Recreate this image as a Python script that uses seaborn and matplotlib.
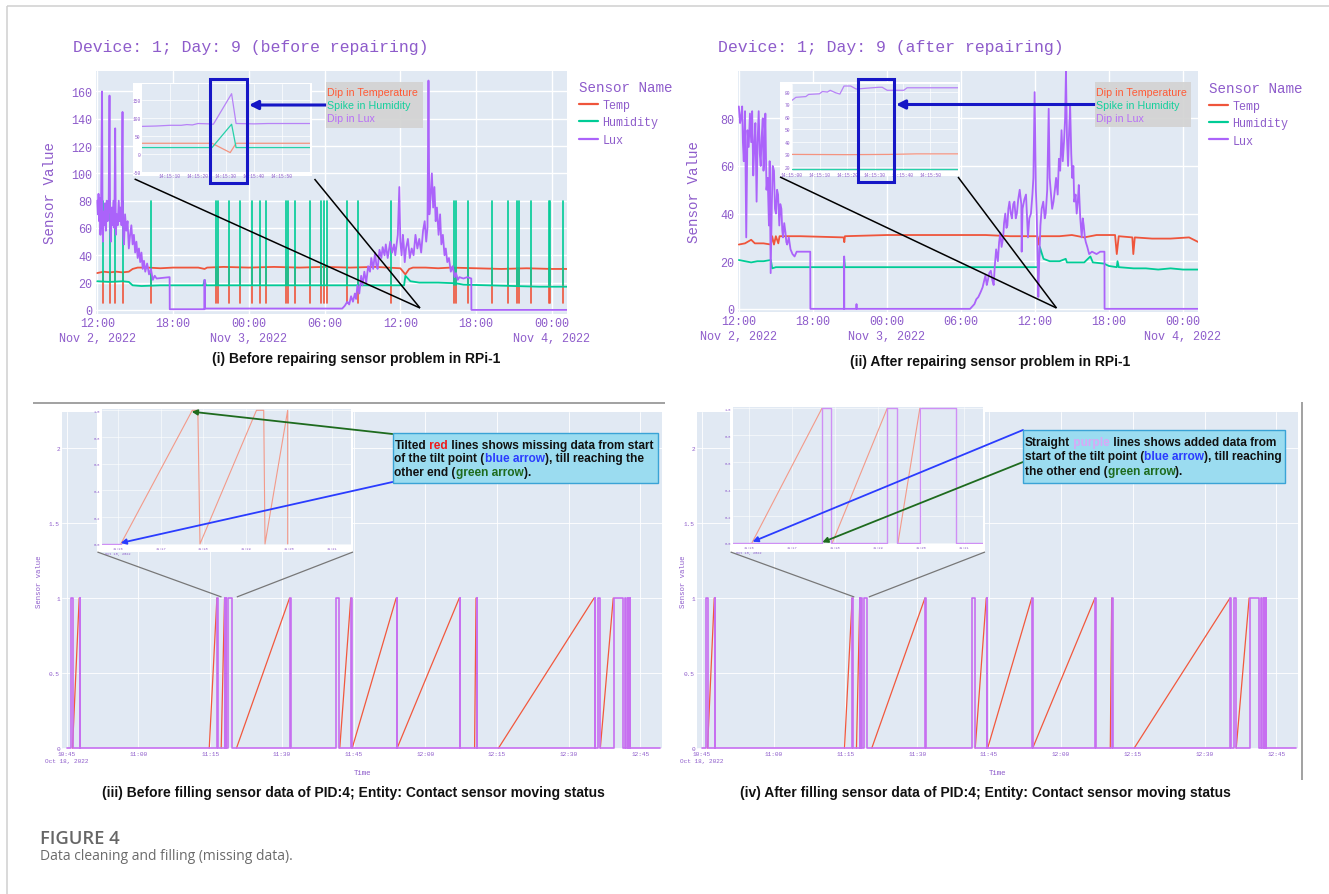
import numpy as np
import pandas as pd
import matplotlib
matplotlib.use("Agg")
import matplotlib.pyplot as plt
import seaborn as sns
from matplotlib.patches import Rectangle, FancyArrowPatch

# Configuración
sns.set_theme(style="darkgrid", rc={"axes.facecolor": "#e1e9f3", "grid.color": "white",
                                    "grid.linewidth": 1.0})
MONO = ["Liberation Mono", "DejaVu Sans Mono"]
SANS = ["Liberation Sans", "DejaVu Sans"]
plt.rcParams["font.family"] = MONO
plt.rcParams["axes.unicode_minus"] = False

W, H = 1329, 895
TXT = "#8e5ccb"
C_TEMP, C_HUM, C_LUX = "#EF553B", "#00CC96", "#AB63FA"
C_RED, C_PURP = "#f2583d", "#c76ff0"
C_BLUE = "#1616c6"

# ---------------- datos (i)/(ii): horas desde Nov 2, 2022 12:00 ----------------
hour_ticks = [0, 6, 12, 18, 24, 30, 36]
hour_labels = ["12:00\nNov 2, 2022", "18:00", "00:00\nNov 3, 2022", "06:00",
               "12:00", "18:00", "00:00\nNov 4, 2022"]

temp_before = [(0, 27), (0.5, 28), (1, 27.5), (1.5, 28), (2, 27.5), (2.5, 28), (2.8, 30),
               (3.2, 31), (4, 31), (5, 30.5), (6, 31), (8, 31), (8.5, 30), (8.7, 31),
               (10, 31.5), (12, 31), (14, 31.5), (16, 31), (18, 31.5), (20, 31), (22, 31.5),
               (24, 30.5), (24.4, 26), (24.7, 30), (25, 31), (26, 31), (27, 30.5), (28, 31),
               (30, 30.5), (32, 30), (34, 30.5), (36, 30), (37.2, 30)]
hum_before = [(0, 21), (1, 20.5), (2, 21), (2.5, 20.5), (2.8, 18), (3.5, 17.5), (5, 18),
              (8.4, 18), (8.5, 22), (8.6, 18), (12, 18), (16, 18), (20, 18), (24.3, 18),
              (24.4, 25), (24.8, 21), (25.5, 20), (27, 20), (28.4, 19.5), (29, 18.5),
              (31, 18), (33, 17.5), (35, 17), (37.2, 17)]
lux_before = [(0.0, 80), (0.05, 70), (0.1, 85), (0.15, 65), (0.2, 82), (0.25, 55), (0.3, 75),
              (0.38, 160), (0.42, 60), (0.45, 50), (0.5, 72), (0.55, 62), (0.62, 78),
              (0.68, 58), (0.75, 80), (0.82, 65), (0.9, 75), (0.97, 157), (1.02, 60),
              (1.08, 50), (1.15, 75), (1.2, 62), (1.28, 80), (1.35, 60), (1.42, 133),
              (1.47, 55), (1.55, 70), (1.62, 62), (1.7, 80), (1.78, 65), (1.85, 75),
              (1.92, 62), (2.0, 145), (2.05, 55), (2.12, 48), (2.2, 70), (2.3, 58), (2.4, 65),
              (2.5, 45), (2.6, 55), (2.7, 62), (2.8, 48), (2.9, 55), (3.0, 42), (3.1, 50),
              (3.2, 38), (3.3, 45), (3.4, 35), (3.5, 42), (3.6, 30), (3.7, 36), (3.8, 28),
              (3.95, 34), (4.1, 26), (4.25, 30), (4.4, 22), (4.55, 25), (4.7, 23), (5.73, 24),
              (5.74, 0.5), (8.49, 0.5), (8.5, 22), (8.51, 1), (19.4, 1), (19.6, 3), (19.8, 6),
              (19.95, 4), (20.1, 10), (20.25, 6), (20.4, 12), (20.5, 8), (20.6, 18),
              (20.75, 12), (20.9, 25), (21.0, 18), (21.15, 28), (21.3, 20), (21.45, 32),
              (21.6, 28), (21.7, 38), (21.85, 30), (22.0, 42), (22.1, 33), (22.2, 30),
              (22.35, 44), (22.5, 38), (22.6, 46), (22.75, 40), (22.85, 48), (23.0, 38),
              (23.2, 50), (23.35, 42), (23.5, 48), (23.6, 40), (23.8, 55), (23.92, 90),
              (24.0, 50), (24.1, 40), (24.2, 55), (24.27, 48), (24.35, 35), (24.45, 45),
              (24.6, 52), (24.75, 38), (24.9, 45), (25.05, 40), (25.2, 55), (25.35, 45),
              (25.5, 52), (25.65, 42), (25.8, 58), (25.93, 65), (26.05, 50), (26.15, 60),
              (26.23, 168), (26.3, 70), (26.38, 80), (26.5, 100), (26.6, 75), (26.7, 90),
              (26.8, 65), (26.9, 75), (27.03, 55), (27.15, 70), (27.25, 48), (27.37, 55),
              (27.5, 40), (27.6, 45), (27.72, 35), (27.85, 38), (28.0, 28), (28.15, 32),
              (28.3, 24), (28.41, 27), (28.55, 22), (28.68, 24), (29.0, 23), (29.3, 24),
              (29.62, 23), (29.63, 0), (37.2, 0)]
spike_hours = [0.45, 0.97, 1.42, 2.0, 4.25, 9.42, 9.6, 10.46, 11.32, 12.25, 12.88, 13.39,
               14.95, 15.12, 15.64, 16.84, 17.71, 17.98, 18.23, 19.78, 20.64, 23.23, 28.24,
               28.41, 29.37, 31.27, 32.55, 33.24, 33.41, 34.38, 35.76, 35.86, 36.86]

temp_after = [(0, 27), (0.5, 27.5), (1.0, 29), (1.3, 27.5), (2.0, 27.5), (2.6, 27), (2.7, 30.5),
              (2.85, 27), (3.0, 30.5), (3.2, 27.5), (3.3, 30.5), (5, 30.5), (8.5, 30),
              (8.55, 28), (8.6, 30.5), (12, 31), (16, 31), (20, 31), (22, 30.5), (24.2, 30.5),
              (24.3, 27), (24.4, 30.5), (26, 30.5), (27, 31), (28, 30), (29, 31), (30.5, 31),
              (30.64, 23), (30.8, 30.5), (31.9, 30), (31.98, 23), (32.1, 30), (33.5, 29.5),
              (35, 29.5), (36.5, 30), (37.27, 28)]
hum_after = [(0, 20.5), (0.5, 20), (1, 19.5), (1.5, 20), (2.0, 20), (2.6, 20.5), (2.7, 17),
             (3, 17.5), (4, 17.5), (8.5, 17.5), (8.54, 21), (8.6, 17.5), (12, 17.5), (16, 17.5),
             (20, 17.5), (24.3, 17.5), (24.4, 26), (24.7, 21), (25.2, 20), (26, 20),
             (26.5, 21), (26.6, 19.5), (28, 19.5), (28.5, 22), (28.7, 19.5), (29.6, 19),
             (30.0, 18), (30.64, 17.5), (30.7, 20), (30.8, 17.5), (32, 17), (33, 17),
             (34, 16.5), (35, 17), (36, 16.5), (37.27, 16.5)]
lux_after = [(0, 85), (0.1, 78), (0.17, 80), (0.27, 85), (0.33, 70), (0.4, 62), (0.5, 83),
             (0.6, 30), (0.7, 75), (0.8, 68), (0.9, 82), (1.0, 70), (1.08, 83), (1.17, 56),
             (1.25, 68), (1.34, 78), (1.44, 45), (1.52, 70), (1.61, 83), (1.7, 65), (1.77, 60),
             (1.85, 72), (1.94, 80), (2.0, 58), (2.08, 65), (2.15, 82), (2.24, 50), (2.34, 55),
             (2.44, 35), (2.5, 62), (2.58, 15), (2.68, 45), (2.75, 60), (2.85, 58), (2.93, 42),
             (3.01, 40), (3.1, 50), (3.18, 48), (3.28, 35), (3.36, 44), (3.45, 42), (3.52, 33),
             (3.58, 30), (3.68, 36), (3.78, 32), (3.85, 28), (3.92, 27), (4.05, 30), (4.19, 25),
             (4.35, 23), (4.52, 22), (4.69, 24), (5.79, 24), (5.8, 0), (8.53, 0), (8.54, 22),
             (8.55, 0), (9.53, 0), (9.54, 2), (9.55, 0), (18.75, 0), (19.1, 2), (19.25, 4),
             (19.42, 5), (19.6, 7), (19.76, 9), (19.9, 12), (19.99, 14), (20.1, 10),
             (20.19, 12), (20.3, 15), (20.43, 16), (20.55, 12), (20.66, 10), (20.75, 18),
             (20.86, 25), (21.0, 20), (21.1, 28), (21.2, 32), (21.3, 26), (21.43, 30),
             (21.5, 36), (21.6, 40), (21.7, 34), (21.77, 35), (21.85, 42), (21.94, 45),
             (22.05, 40), (22.14, 38), (22.25, 44), (22.34, 45), (22.45, 38), (22.54, 40),
             (22.65, 46), (22.77, 50), (22.9, 44), (22.93, 24), (23.0, 42), (23.15, 46),
             (23.28, 48), (23.44, 30), (23.55, 38), (23.68, 40), (23.8, 48), (23.88, 55),
             (23.98, 91), (24.08, 50), (24.15, 40), (24.28, 5), (24.35, 20), (24.45, 35),
             (24.55, 42), (24.68, 45), (24.8, 38), (24.88, 40), (25.0, 50), (25.12, 84),
             (25.2, 55), (25.28, 50), (25.4, 42), (25.51, 45), (25.62, 50), (25.72, 55),
             (25.85, 48), (25.95, 63), (26.05, 58), (26.16, 75), (26.26, 62), (26.36, 70),
             (26.45, 80), (26.52, 100), (26.6, 72), (26.69, 60), (26.78, 75), (26.86, 85),
             (26.95, 65), (27.03, 55), (27.12, 60), (27.19, 45), (27.3, 48), (27.39, 40),
             (27.48, 45), (27.56, 52), (27.68, 38), (27.8, 30), (27.88, 38), (27.96, 35),
             (28.05, 30), (28.13, 28), (28.25, 26), (28.4, 23), (28.63, 24), (29.0, 23),
             (29.3, 24), (29.64, 24), (29.65, 0), (37.27, 0)]

# zoom de 14:15:00 a 14:16:00 (segundos)
zoom_sec_ticks_before = [10, 20, 30, 40, 50]
zoom_sec_ticks_after = [0, 10, 20, 30, 40, 50]
zoom_temp_before = [(0, 30), (25, 30), (31.5, 4), (33.6, 30), (60, 30)]
zoom_hum_before = [(0, 18), (25, 18), (32, 83), (33.6, 18), (60, 18)]
zoom_lux_before = [(0, 77), (5, 78), (10, 80), (14, 80), (16, 82), (18, 81), (20, 85), (24, 84),
                   (25.5, 83), (32, 168), (33.6, 85), (40, 84), (45, 85), (60, 85)]
zoom_temp_after = [(0, 30), (20, 29.8), (35, 30), (45, 30.4), (60, 30.4)]
zoom_hum_after = [(0, 18.2), (60, 18.2)]
zoom_lux_after = [(0, 73), (1.4, 75.4), (5, 76), (6, 77.7), (9.9, 78.2), (11, 80), (12.8, 79.6),
                  (13.8, 81), (15.8, 79), (17.3, 78), (18.8, 84.4), (21.2, 84.4), (23.2, 82),
                  (27.8, 82.8), (31.4, 83.4), (32.6, 83.4), (34.4, 81), (36.2, 81), (40.4, 81),
                  (41.6, 83), (60, 83)]

# ---------------- datos (iii)/(iv): minutos desde Oct 18, 2022 10:45 ----------------
min_ticks = [0, 15, 30, 45, 60, 75, 90, 105, 120]
min_labels = ["10:45\nOct 18, 2022", "11:00", "11:15", "11:30", "11:45", "12:00",
              "12:15", "12:30", "12:45"]
contact_pulses = [(0.9, 1.2), (2.7, 2.8), (31.4, 31.6), (33.0, 33.1), (33.3, 33.4), (33.8, 34.5),
                  (46.7, 46.8), (56.4, 57.0), (59.5, 59.6), (69.0, 69.1), (82.2, 82.3),
                  (85.7, 85.8), (110.4, 110.5), (111.2, 111.5), (114.5, 116.4), (116.8, 116.9),
                  (117.3, 117.4), (117.8, 117.9)]
contact_tilts = [(1.2, 2.6), (29.8, 31.4), (32.3, 33.0), (35.5, 46.6), (57.1, 59.4),
                 (59.7, 68.9), (69.1, 82.1), (85.3, 85.6), (90.3, 110.3), (111.6, 114.3)]
zoom_ticks_contact = [0, 1, 2, 3, 4, 5]
zoom_labels_contact = ["11:16\nOct 18, 2022", "11:17", "11:18", "11:19", "11:20", "11:21"]
zoom_red_before = [(0.07, 0), (1.74, 1), (1.87, 1), (1.92, 0), (3.24, 1), (3.41, 1), (3.44, 0),
                   (3.97, 1), (3.97, 0)]
zoom_purple_before = [(-0.37, 0), (0.07, 0)]
zoom_pulses_after = [(1.70, 1.91), (3.22, 3.45), (3.98, 4.83)]
zoom_tilts_after = [(0.07, 1.70), (1.94, 3.22), (3.47, 3.98)]


# ---------------- helpers ----------------
def box(l, t, r, b, **kw):
    return fig.add_axes([l / W, 1 - b / H, (r - l) / W, (b - t) / H], **kw)


def paper(l, t, r, b):
    fig.add_artist(Rectangle((l / W, 1 - b / H), (r - l) / W, (b - t) / H,
                             transform=fig.transFigure, facecolor="white",
                             edgecolor="none", zorder=0.5))


def pairs_df(pairs):
    return pd.DataFrame(pairs, columns=["x", "y"])


def spikes_df(hours, lows, high):
    rows = []
    for i, (h, lo) in enumerate(zip(hours, lows)):
        rows += [(i, h, lo), (i, h, high)]
    return pd.DataFrame(rows, columns=["sid", "x", "y"])


def steps_df(pulses, start, end):
    pts = [(start, 0)]
    for a, b in pulses:
        pts += [(a, 0), (a, 1), (b, 1), (b, 0)]
    pts.append((end, 0))
    return pd.DataFrame(pts, columns=["x", "y"])


def tilts_df(segs):
    rows = []
    for i, (a, b) in enumerate(segs):
        rows += [(i, a, 0), (i, b, 1)]
    return pd.DataFrame(rows, columns=["sid", "x", "y"])


def clean(ax):
    for s in ax.spines.values():
        s.set_visible(False)
    ax.set_xlabel("")
    ax.set_ylabel("")


def sensor_panel(ax, temp, hum, lux, spikes, ylim, yticks, leg_xy, ylab_x):
    sns.lineplot(data=pairs_df(temp), x="x", y="y", color=C_TEMP, lw=1.3, estimator=None,
                 sort=False, label="Temp", ax=ax)
    if spikes:
        lows = [28 if h < 2.6 else 31 for h in spikes]
        sns.lineplot(data=spikes_df(spikes, lows, 5), x="x", y="y", units="sid", estimator=None,
                     sort=False, color=C_TEMP, lw=1.2, legend=False, ax=ax)
    sns.lineplot(data=pairs_df(hum), x="x", y="y", color=C_HUM, lw=1.3, estimator=None,
                 sort=False, label="Humidity", ax=ax)
    if spikes:
        lows = [21 if h < 2.6 else 18 for h in spikes]
        sns.lineplot(data=spikes_df(spikes, lows, 80), x="x", y="y", units="sid", estimator=None,
                     sort=False, color=C_HUM, lw=1.2, legend=False, ax=ax)
    sns.lineplot(data=pairs_df(lux), x="x", y="y", color=C_LUX, lw=1.3, estimator=None,
                 sort=False, label="Lux", ax=ax)
    clean(ax)
    ax.set_xlim(-0.1, 37.2)
    ax.set_ylim(*ylim)
    ax.set_yticks(yticks)
    ax.set_xticks(hour_ticks, hour_labels)
    ax.tick_params(length=0, colors=TXT, labelsize=8.5, pad=2.5)
    for lbl in ax.get_xticklabels():
        lbl.set_linespacing(1.3)
    ax.set_ylabel("Sensor Value", fontsize=10.2, color=TXT, va="center")
    ax.yaxis.set_label_coords(ylab_x, 0.5)
    hs, ls = ax.get_legend_handles_labels()
    keep = [(h, l) for h, l in zip(hs, ls) if l in ("Temp", "Humidity", "Lux")]
    leg = ax.legend([k[0] for k in keep], [k[1] for k in keep], loc="upper left",
                    bbox_to_anchor=leg_xy, frameon=False, title="Sensor Name",
                    alignment="left", fontsize=8.5, title_fontsize=10.3, handlelength=1.6,
                    handletextpad=0.4, labelspacing=0.45, borderpad=0, borderaxespad=0)
    for t in leg.get_texts():
        t.set_color(TXT)
    leg.get_title().set_color(TXT)
    for ln in leg.get_lines():
        ln.set_linewidth(1.6)


def sensor_zoom(ax, temp, hum, lux, xticks, xlabels, ylim, yticks):
    for data, col in [(temp, "#f4937f"), (hum, "#26d1a8"), (lux, "#b782f7")]:
        sns.lineplot(data=pairs_df(data), x="x", y="y", color=col, lw=0.9, estimator=None,
                     sort=False, legend=False, ax=ax)
    clean(ax)
    ax.set_xlim(0, 60)
    ax.set_ylim(*ylim)
    ax.set_yticks(yticks)
    ax.set_xticks(xticks, xlabels)
    ax.tick_params(length=0, colors=TXT, labelsize=3.3, pad=1)
    ax.grid(lw=0.5)


def contact_panel(ax, ylab_x):
    sns.lineplot(data=tilts_df(contact_tilts), x="x", y="y", units="sid", estimator=None,
                 sort=False, color=C_RED, lw=0.9, legend=False, ax=ax)
    sns.lineplot(data=steps_df(contact_pulses, 0, 124.1), x="x", y="y", estimator=None,
                 sort=False, color=C_PURP, lw=1.2, legend=False, ax=ax)
    clean(ax)
    ax.set_xlim(-1.0, 124.5)
    ax.set_ylim(-0.006, 2.24)
    ax.set_yticks([0, 0.5, 1, 1.5, 2], ["0", "0.5", "1", "1.5", "2"])
    ax.set_xticks(min_ticks, min_labels)
    ax.tick_params(length=0, colors=TXT, labelsize=4.4, pad=1.5)
    for lbl in ax.get_xticklabels():
        lbl.set_linespacing(1.5)
    ax.grid(lw=0.6)
    ax.set_ylabel("Sensor value", fontsize=5.3, color=TXT, va="center")
    ax.yaxis.set_label_coords(ylab_x, 0.5)
    ax.set_xlabel("Time", fontsize=5.3, color=TXT, va="center")
    ax.xaxis.set_label_coords(0.5, -0.071)


def contact_zoom(ax, before):
    if before:
        sns.lineplot(data=pairs_df(zoom_red_before), x="x", y="y", estimator=None, sort=False,
                     color="#f39a89", lw=0.8, legend=False, ax=ax)
        sns.lineplot(data=pairs_df(zoom_purple_before), x="x", y="y", estimator=None,
                     sort=False, color="#cf8ff5", lw=1.0, legend=False, ax=ax)
    else:
        sns.lineplot(data=tilts_df(zoom_tilts_after), x="x", y="y", units="sid",
                     estimator=None, sort=False, color="#f39a89", lw=0.8, legend=False, ax=ax)
        sns.lineplot(data=steps_df(zoom_pulses_after, -0.36, 5.44), x="x", y="y",
                     estimator=None, sort=False, color="#cf8ff5", lw=1.0, legend=False, ax=ax)
    clean(ax)
    ax.set_xlim(-0.37, 5.45)
    ax.set_ylim(-0.008, 1.01)
    ax.set_yticks([0, 0.2, 0.4, 0.6, 0.8, 1])
    ax.set_xticks(zoom_ticks_contact, zoom_labels_contact)
    ax.tick_params(length=0, colors=TXT, labelsize=2.6, pad=1)
    ax.grid(lw=0.4)


# ---------------- figura ----------------
fig = plt.figure(figsize=(W / 100, H / 100), dpi=100)
fig.patch.set_facecolor("white")

ax1 = box(96, 72, 567, 315)
sensor_panel(ax1, temp_before, hum_before, lux_before, spike_hours, (-3, 175),
             [0, 20, 40, 60, 80, 100, 120, 140, 160], (1.0255, 0.964), -0.098)
ax2 = box(737.6, 71.7, 1197.7, 312.7)
sensor_panel(ax2, temp_after, hum_after, lux_after, None, (-1.2, 100),
             [0, 20, 40, 60, 80], (1.0245, 0.959), -0.094)
ax3 = box(62, 413, 662, 750)
contact_panel(ax3, -0.037)
ax4 = box(697, 413, 1298, 750)
contact_panel(ax4, -0.023)

paper(133, 84, 312, 177)
ins1 = box(142, 85, 310, 173, zorder=1)
sensor_zoom(ins1, zoom_temp_before, zoom_hum_before, zoom_lux_before, zoom_sec_ticks_before,
            ["14:15:10", "14:15:20", "14:15:30", "14:15:40", "14:15:50"], (-50, 195),
            [-50, 0, 50, 100, 150])
paper(780, 83, 960, 177)
ins2 = box(792, 85, 958, 172, zorder=1)
sensor_zoom(ins2, zoom_temp_after, zoom_hum_after, zoom_lux_after, zoom_sec_ticks_after,
            ["14:15:00", "14:15:10", "14:15:20", "14:15:30", "14:15:40", "14:15:50"],
            (16.8, 86), [20, 30, 40, 50, 60, 70, 80])
paper(97, 408, 353, 553)
ins3 = box(102, 410, 351, 546, zorder=1)
contact_zoom(ins3, True)
paper(730, 405, 985, 553)
ins4 = box(733, 408, 983, 545, zorder=1)
contact_zoom(ins4, False)

# capa de anotaciones en pixeles
ov = fig.add_axes([0, 0, 1, 1], zorder=5)
ov.set_xlim(0, W)
ov.set_ylim(H, 0)
ov.axis("off")


def seg(x0, y0, x1, y1, color, lw):
    ov.plot([x0, x1], [y0, y1], color=color, lw=lw, solid_capstyle="butt")


def arrow(tail, head, color, lw, ms):
    ov.add_patch(FancyArrowPatch(tail, head, arrowstyle="-|>", mutation_scale=ms, color=color,
                                 lw=lw, shrinkA=0, shrinkB=0))


def rich(x, y, pieces, size=8.6):
    t = ov.text(x, y, pieces[0][0], color=pieces[0][1], fontsize=size, weight="bold",
                family=SANS, va="center", ha="left")
    for s, c in pieces[1:]:
        t = ov.annotate(s, xy=(1, 0), xycoords=t, va="bottom", ha="left", color=c,
                        fontsize=size, weight="bold", family=SANS)


# marco
seg(7, 7, 7, 895, "#cfcfcf", 1.1)
seg(7, 7, 1329, 7, "#cfcfcf", 1.1)
seg(33, 404, 665, 404, "#9a9a9a", 1.3)
seg(1302, 403, 1302, 781, "#888888", 1.1)

# titulos
ov.text(73, 47, "Device: 1; Day: 9 (before repairing)", fontsize=11.9, color=TXT, va="center")
ov.text(718, 47, "Device: 1; Day: 9 (after repairing)", fontsize=11.9, color=TXT, va="center")

# conectores superiores
seg(134.6, 180, 420, 309, "black", 1.1)
seg(314.5, 180, 420, 309, "black", 1.1)
seg(780, 178, 1056.5, 309, "black", 1.1)
seg(958, 178, 1056.5, 309, "black", 1.1)

# recuadros azules y flechas
for (l, t, r, b), (tx, hx, y) in [((210, 79.5, 247, 183.5), (326, 249, 106)),
                                  ((858, 79.5, 894, 182.5), (1095, 896, 105.5))]:
    ov.add_patch(Rectangle((l, t), r - l, b - t, fill=False, edgecolor=C_BLUE, lw=2.2))
    arrow((tx, y), (hx, y), C_BLUE, 2.2, 13)

# cajas grises
for (l, t, r, b), x0 in [((326, 83, 423, 129), 327), ((1094.8, 83, 1191, 128), 1095.6)]:
    ov.add_patch(Rectangle((l, t), r - l, b - t, facecolor="#d3d3d3", edgecolor="none",
                           alpha=0.92))
    for txt, col, y in [("Dip in Temperature", "#ff5a36", 92.7),
                        ("Spike in Humidity", "#14cf9c", 106),
                        ("Dip in Lux", "#b86ef7", 119)]:
        ov.text(x0, y, txt, color=col, fontsize=7.7, family=SANS, va="center")

# conectores inferiores
seg(97.4, 553, 221.5, 598, "#777777", 0.9)
seg(353, 553, 236.8, 598, "#777777", 0.9)
seg(730.6, 553, 854.3, 598, "#777777", 0.9)
seg(985, 553, 868.8, 598, "#777777", 0.9)

# flechas inferiores
GREEN, BLUE2 = "#1e6b1e", "#2a3cff"
arrow((392.5, 435), (191.7, 412.7), GREEN, 1.3, 8)
arrow((392.5, 483), (120.6, 544), BLUE2, 1.3, 8)
arrow((1023, 431), (752.6, 542.7), BLUE2, 1.3, 8)
arrow((1023, 463), (822.3, 543.3), GREEN, 1.3, 8)

# cajas de texto
K = "#111111"
ov.add_patch(Rectangle((392.5, 434), 265.5, 49.5, facecolor="#9bdcf0", edgecolor="#3aa3d6",
                       lw=1.0))
rich(394.5, 445.7, [("Tilted", K), (" red", "#ee1c1c"), (" lines shows missing data from start", K)])
rich(394.5, 459.3, [("of the tilt point (", K), ("blue arrow", BLUE2), ("), till reaching the", K)])
rich(394.5, 473.3, [("other end (", K), ("green arrow", GREEN), (").", K)])
ov.add_patch(Rectangle((1023, 431), 262, 52.5, facecolor="#9bdcf0", edgecolor="#3aa3d6",
                       lw=1.0))
rich(1025, 443.3, [("Straight", K), (" purple", "#d9a8f7"), (" lines shows added data from", K)])
rich(1025, 457.3, [("start of the tilt point (", K), ("blue arrow", BLUE2), ("), till reaching", K)])
rich(1025, 471.7, [("the other end (", K), ("green arrow", GREEN), (").", K)])

# leyendas de paneles
for x, y, s in [(356, 359, "(i) Before repairing sensor problem in RPi-1"),
                (990, 362, "(ii) After repairing sensor problem in RPi-1"),
                (353, 793, "(iii) Before filling sensor data of PID:4; Entity: Contact sensor moving status"),
                (985.5, 793, "(iv) After filling sensor data of PID:4; Entity: Contact sensor moving status")]:
    ov.text(x, y, s, fontsize=10, weight="bold", family=SANS, color="#111111",
            ha="center", va="center")

ov.text(40, 839, "FIGURE 4", fontsize=13.2, weight="semibold", family=["Open Sans", "DejaVu Sans"],
        color="#666666", va="center")
ov.text(40, 857, "Data cleaning and filling (missing data).", fontsize=10,
        family=["Open Sans", "DejaVu Sans"], color="#6b6b6b", va="center")

fig.savefig("out.png", dpi=100)
